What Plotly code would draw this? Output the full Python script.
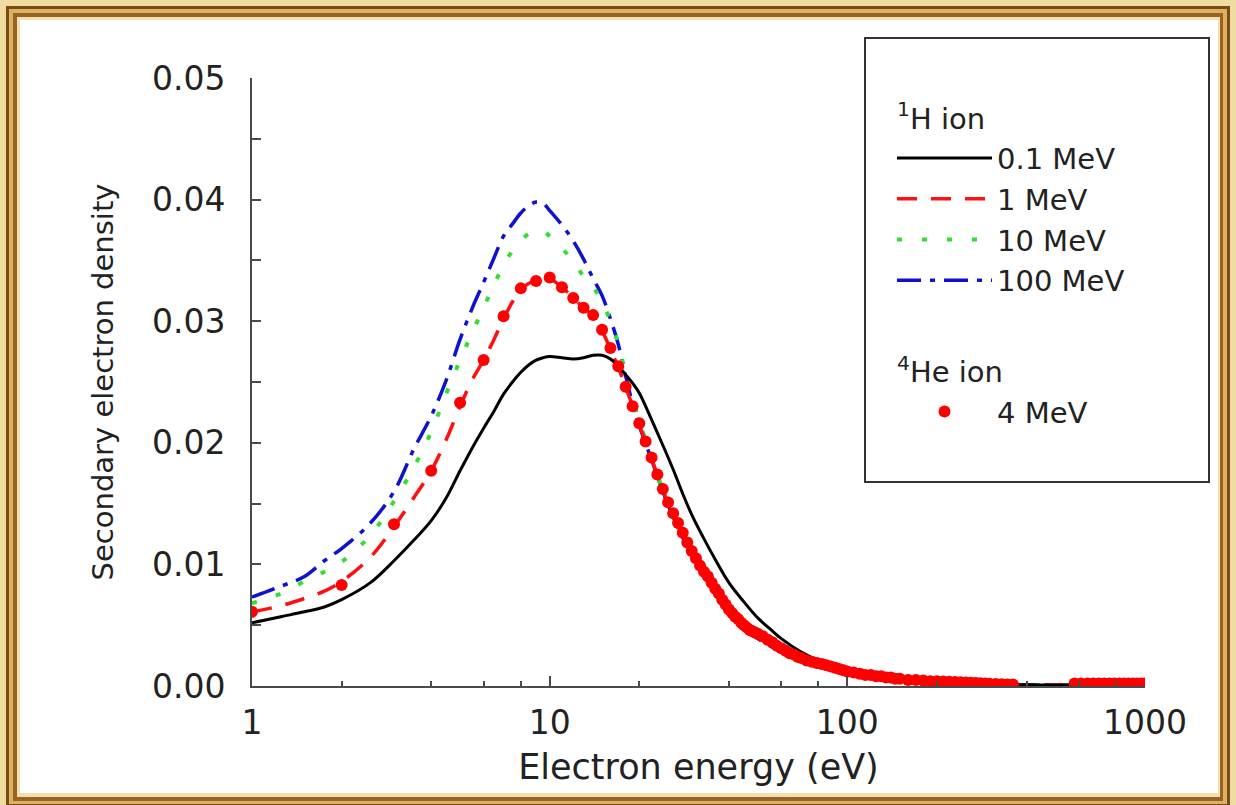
import plotly.graph_objects as go

# ---------------- data ----------------
energy_h = [1, 1.25, 1.5, 1.75, 2, 2.5, 3, 3.5, 4, 4.5, 5, 5.5, 6, 6.5, 7, 7.5, 8, 8.5, 9, 9.5,
            10, 11, 12, 13, 14, 15, 16, 17, 18, 19, 20, 22, 24, 26, 28, 30, 33, 36, 40, 45,
            50, 55, 60, 70, 80, 90, 100, 120, 150, 200, 250, 300, 400, 500, 700, 1000]

h_0p1MeV = [0.0052, 0.0057, 0.0061, 0.0065, 0.0071, 0.0085, 0.0103, 0.0120, 0.0136, 0.0155,
            0.0177, 0.0196, 0.0212, 0.0226, 0.0240, 0.0250, 0.0258, 0.0264, 0.0268, 0.0270,
            0.0271, 0.0270, 0.0269, 0.0270, 0.0272, 0.0272, 0.0269, 0.0263, 0.0256, 0.0249,
            0.0241, 0.0219, 0.0198, 0.0178, 0.0158, 0.0141, 0.0121, 0.0104, 0.0085, 0.0069,
            0.0056, 0.0047, 0.0039, 0.0028, 0.0021, 0.0016, 0.0013, 0.0009, 0.0006, 0.0003,
            0.0002, 0.00015, 0.0001, 0.00008, 0.00005, 0.00003]

h_1MeV = [0.0061, 0.0066, 0.0072, 0.0078, 0.0086, 0.0106, 0.0131, 0.0155, 0.0177, 0.0203,
          0.0230, 0.0252, 0.0268, 0.0285, 0.0302, 0.0316, 0.0326, 0.0331, 0.0333, 0.0335,
          0.0335, 0.0328, 0.0319, 0.0311, 0.0304, 0.0292, 0.0277, 0.0262, 0.0246, 0.0230,
          0.0215, 0.0187, 0.0161, 0.0141, 0.0125, 0.0110, 0.0093, 0.0079, 0.0062, 0.0049,
          0.0041, 0.0035, 0.0030, 0.0023, 0.0017, 0.0013, 0.0011, 0.0008, 0.0005, 0.0003,
          0.0002, 0.00015, 0.0001, 0.00008, 0.00005, 0.00003]

h_10MeV = [0.0068, 0.0076, 0.0086, 0.0094, 0.0102, 0.0124, 0.0152, 0.0180, 0.0209, 0.0241,
           0.0268, 0.0291, 0.0311, 0.0330, 0.0346, 0.0358, 0.0366, 0.0372, 0.0375, 0.0374,
           0.0370, 0.0360, 0.0349, 0.0337, 0.0328, 0.0316, 0.0300, 0.0282, 0.0256, 0.0236,
           0.0218, 0.0188, 0.0161, 0.0140, 0.0123, 0.0109, 0.0092, 0.0078, 0.0061, 0.0048,
           0.0040, 0.0034, 0.0029, 0.0022, 0.0017, 0.0013, 0.0011, 0.0008, 0.0005, 0.0003,
           0.0002, 0.00015, 0.0001, 0.00008, 0.00005, 0.00003]

h_100MeV = [0.0073, 0.0082, 0.0090, 0.0103, 0.0113, 0.0134, 0.0160, 0.0195, 0.0222, 0.0252,
            0.0285, 0.0311, 0.0332, 0.0352, 0.0370, 0.0380, 0.0389, 0.0395, 0.0398, 0.0397,
            0.0391, 0.0379, 0.0366, 0.0351, 0.0335, 0.0321, 0.0302, 0.0281, 0.0255, 0.0232,
            0.0214, 0.0186, 0.0160, 0.0139, 0.0122, 0.0108, 0.0091, 0.0077, 0.0060, 0.0047,
            0.0039, 0.0033, 0.0028, 0.0022, 0.0017, 0.0013, 0.0011, 0.0008, 0.0005, 0.0003,
            0.0002, 0.00015, 0.0001, 0.00008, 0.00005, 0.00003]

energy_he = [1, 2, 3, 4, 5, 6, 7, 8, 9, 10, 11, 12, 13, 14, 15, 16, 17, 18, 19, 20,
             21, 22, 23, 24, 25, 26, 27, 28, 29, 30, 31, 32, 33, 34, 35, 36, 37, 38, 39, 40,
             41, 42, 43, 44, 45, 46, 47, 48, 49, 50, 52, 54, 56, 58, 60, 62, 64, 66, 68, 70,
             73, 76, 79, 82, 85, 88, 91, 94, 97, 100, 105, 110, 115, 120, 125, 130, 135, 140,
             145, 150, 160, 170, 180, 190, 200, 210, 220, 230, 240, 250, 260, 270, 280, 290,
             300, 315, 330, 345, 360,
             580, 610, 640, 670, 700, 730, 760, 790, 820, 850, 880, 910, 940, 970, 1000]
he_4MeV = [0.0061, 0.0083, 0.0133, 0.0177, 0.0233, 0.0268, 0.0304, 0.0327, 0.0333, 0.0336,
           0.0328, 0.0319, 0.0311, 0.0305, 0.0293, 0.0278, 0.0263, 0.0246, 0.0230, 0.0216,
           0.0201, 0.0188, 0.0174, 0.0162, 0.0151, 0.0142, 0.0134, 0.0126, 0.0118, 0.0111,
           0.0105, 0.0099, 0.0094, 0.0090, 0.0085, 0.0080, 0.0076, 0.0071, 0.0067, 0.0063,
           0.0060, 0.0057, 0.0055, 0.0052, 0.0050, 0.0048, 0.0046, 0.0045, 0.0044, 0.0043,
           0.0041, 0.0038, 0.0036, 0.0033, 0.0031, 0.0029, 0.0027, 0.0026, 0.0024, 0.0023,
           0.0021, 0.0020, 0.0019, 0.0018, 0.0017, 0.0016, 0.0015, 0.0014, 0.0013, 0.0012,
           0.0011, 0.0010, 0.0009, 0.0009, 0.0008, 0.0008, 0.0007, 0.0007,
           0.0006, 0.0006, 0.0005, 0.0005, 0.00045, 0.0004, 0.0004, 0.00036, 0.00034, 0.00032,
           0.0003, 0.00028, 0.00026, 0.00024, 0.00022, 0.0002,
           0.00019, 0.00017, 0.00015, 0.00013, 0.00012,
           0.0002, 0.0002, 0.0002, 0.0002, 0.0002, 0.0002, 0.0002, 0.0002, 0.0002, 0.0002,
           0.0002, 0.0002, 0.0002, 0.0002, 0.0002]

x_tickvals = [1, 10, 100, 1000]
x_ticktext = ["1", "10", "100", "1000"]
x_minor = [2, 4, 6, 8, 20, 40, 60, 80, 200, 400, 600, 800]
y_tickvals = [0, 0.01, 0.02, 0.03, 0.04, 0.05]
y_ticktext = ["0.00", "0.01", "0.02", "0.03", "0.04", "0.05"]
y_minor = [0.005, 0.015, 0.025, 0.035, 0.045]

# ---------------- layout geometry (pixels) ----------------
W, H = 1236, 805
ML, MR, MT, MB = 252, 91, 78, 119
PW, PH = W - ML - MR, H - MT - MB
FONT = "DejaVu Sans"
TXT = "#222222"
AX = "#4a4a4a"


def px(x):
    return (x - ML) / PW


def py(y):
    return (H - MB - y) / PH


fig = go.Figure()

common_line = dict(mode="lines", line_shape="spline")
fig.add_trace(go.Scatter(x=energy_h, y=h_100MeV, name="100 MeV", legendgroup="H",
                         legendgrouptitle_text="<sup>1</sup>H ion", legendrank=4,
                         line=dict(color="#1010d0", width=3.5, dash="24px,9px,5px,9px"), **common_line))
fig.add_trace(go.Scatter(x=energy_h, y=h_10MeV, name="10 MeV", legendgroup="H", legendrank=3,
                         line=dict(color="#30e030", width=4, dash="5px,20px"), **common_line))
fig.add_trace(go.Scatter(x=energy_h, y=h_1MeV, name="1 MeV", legendgroup="H", legendrank=2,
                         line=dict(color="#ff1010", width=3.5, dash="20px,14px"), **common_line))
fig.add_trace(go.Scatter(x=energy_h, y=h_0p1MeV, name="0.1 MeV", legendgroup="H", legendrank=1,
                         line=dict(color="#000000", width=3), **common_line))
fig.add_trace(go.Scatter(x=energy_he, y=he_4MeV, name="4 MeV", legendgroup="He",
                         legendgrouptitle_text="<sup>4</sup>He ion", legendrank=5,
                         mode="markers", marker=dict(color="#ff0000", size=12)))

# decorative picture frame + legend box
frame = [
    (0, 0, W, H, "#f0dca0"),
    (6, 6, W - 6, H + 2, "#7a4a1a"),
    (9, 9, W - 9, H - 1, "#dcb35c"),
    (13, 13, W - 13, H - 4, "#9a6128"),
    (17, 17, W - 16, H - 8, "#f3e0ac"),
    (20, 20, W - 18, H - 12, "#ffffff"),
]
shapes = []
for x0, y0, x1, y1, c in frame:
    shapes.append(dict(type="rect", xref="paper", yref="paper", layer="below",
                       x0=px(x0), x1=px(x1), y0=py(y1), y1=py(y0),
                       fillcolor=c, line=dict(width=0)))
shapes.append(dict(type="rect", xref="paper", yref="paper", layer="above",
                   x0=px(865), x1=px(1209), y0=py(482), y1=py(38),
                   fillcolor="rgba(0,0,0,0)", line=dict(color="#333333", width=2)))

axis_common = dict(showline=True, linecolor=AX, linewidth=2, showgrid=False, zeroline=False,
                   ticks="inside", tickcolor=AX, tickwidth=2, mirror=False,
                   tickfont=dict(family=FONT, size=33, color=TXT))

fig.update_layout(
    width=W, height=H,
    margin=dict(l=ML, r=MR, t=MT, b=MB, autoexpand=False),
    paper_bgcolor="#f0dca0", plot_bgcolor="rgba(0,0,0,0)",
    shapes=shapes,
    xaxis=dict(type="log", range=[0, 3], tickmode="array", tickvals=x_tickvals, ticktext=x_ticktext,
               ticklen=10, ticklabelstandoff=6,
               minor=dict(tickmode="array", tickvals=x_minor, ticks="inside", ticklen=5,
                          tickwidth=2, tickcolor=AX),
               title=dict(text="Electron energy (eV)", font=dict(family=FONT, size=35, color=TXT),
                          standoff=14),
               **axis_common),
    yaxis=dict(range=[0, 0.05], tickmode="array", tickvals=y_tickvals, ticktext=y_ticktext,
               ticklen=9, ticklabelstandoff=18,
               minor=dict(tickmode="array", tickvals=y_minor, ticks="inside", ticklen=9,
                          tickwidth=2, tickcolor=AX),
               title=dict(text="Secondary electron density", font=dict(family=FONT, size=29, color=TXT),
                          standoff=30),
               **axis_common),
    legend=dict(x=px(892), y=py(92), xanchor="left", yanchor="top",
                bgcolor="rgba(0,0,0,0)", borderwidth=0, itemwidth=95,
                font=dict(family=FONT, size=29, color=TXT),
                grouptitlefont=dict(family=FONT, size=29, color=TXT),
                tracegroupgap=50, itemclick=False),
    showlegend=True,
)

fig.write_html("out.html", config={"displayModeBar": False},
               post_script="document.body.style.margin='0px';")
